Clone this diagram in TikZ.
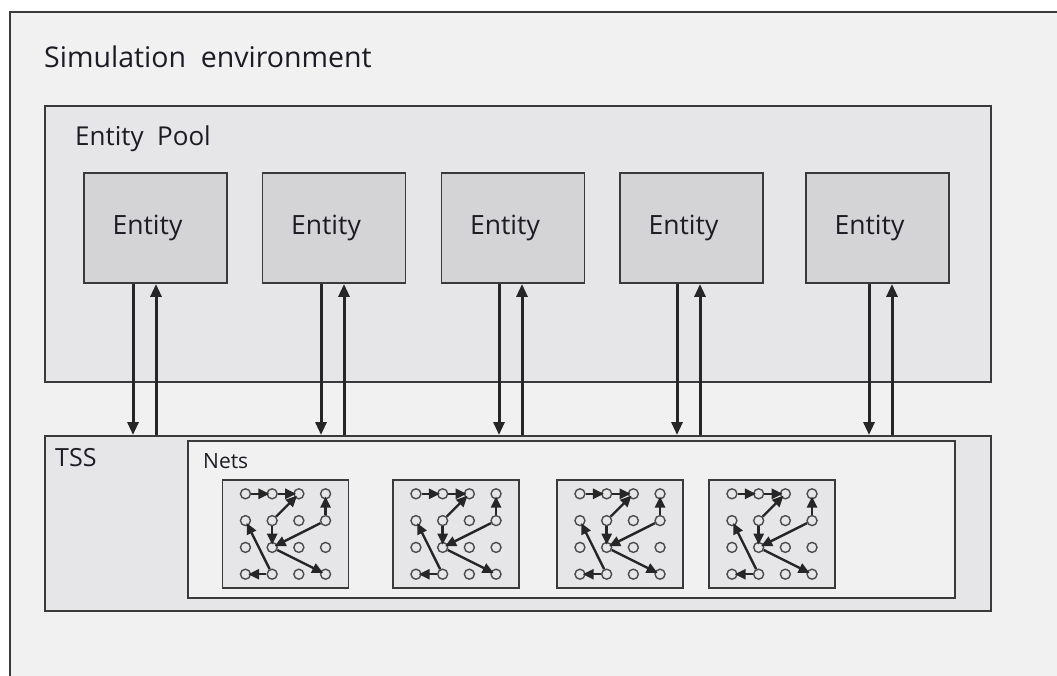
\documentclass[tikz,border=0pt]{standalone}
\usepackage{fontspec}
\setmainfont{Open Sans}
\usetikzlibrary{arrows.meta,calc}
\definecolor{bgout}{HTML}{F1F1F1}
\definecolor{bgpool}{HTML}{E6E6E8}
\definecolor{bgent}{HTML}{D4D4D6}
\definecolor{edge}{HTML}{3A3A3A}
\definecolor{txt}{HTML}{1C1C24}
\newcommand{\enttext}{\hspace*{-16pt}Entity}
\tikzset{
  panel/.style={draw=edge, line width=1.9pt, anchor=north west, inner sep=0pt},
  entbox/.style={draw=edge, line width=1.9pt, fill=bgent, minimum width=143pt, minimum height=110pt, inner sep=0pt, font=\fontsize{26.5}{30}\selectfont, text=txt},
  lbl/.style={anchor=base west, inner sep=0pt, text=txt},
  bigarr/.style={draw=black!85, line width=3pt, -{Triangle[length=13pt,width=11pt]}},
  dot/.style={circle, draw=black!70, line width=1.4pt, fill=bgpool, minimum size=10pt, inner sep=0pt},
  narr/.style={draw=black!85, line width=2.4pt, -{Triangle[length=11pt,width=10pt]}, shorten >=-3pt},
  netbox/.style={draw=edge, line width=1.9pt, fill=bgpool, minimum width=126pt, minimum height=108pt, inner sep=0pt},
  pics/net/.style={code={
    \node[netbox] (-box) at (0,0) {};
    \foreach \i in {0,1,2,3}{\foreach \j in {0,1,2,3}{
      \node[dot] (-c\i\j) at ({(\i-1.5)*26.7},{(\j-1.5)*26.8}) {};
    }}
    \draw[narr] (-c00) -- (-c10);
    \draw[narr] (-c10) -- (-c20);
    \draw[narr] (-c11) -- (-c20);
    \draw[narr] (-c11) -- (-c12);
    \draw[narr] (-c31) -- (-c30);
    \draw[narr] (-c31) -- (-c12);
    \draw[narr] (-c12) -- (-c33);
    \draw[narr] (-c13) -- (-c01);
    \draw[narr] (-c13) -- (-c03);
  }}
}
\begin{document}
\begin{tikzpicture}[x=1pt,y=-1pt]
\useasboundingbox (0,0) rectangle (1057,675);
\fill[white] (0,0) rectangle (1057,675);
\begin{scope}
\clip (0,0) rectangle (1057,675);
\node[panel, fill=bgout, minimum width=1070pt, minimum height=690pt] (env) at (9,11) {};
\end{scope}
\node[lbl, font=\fontsize{28.5}{32}\selectfont] (envlbl) at (44,67) {Simulation\ \ environment};
\node[panel, fill=bgpool, minimum width=946pt, minimum height=276pt] (pool) at (44,105) {};
\node[lbl, font=\fontsize{26}{30}\selectfont] (poollbl) at (75,145) {Entity\ \ Pool};
\node[entbox] (e1) at (155.5,228) {\enttext};
\node[entbox] (e2) at (334,228) {\enttext};
\node[entbox] (e3) at (513,228) {\enttext};
\node[entbox] (e4) at (691.5,228) {\enttext};
\node[entbox] (e5) at (877.5,228) {\enttext};
\node[panel, fill=bgpool, minimum width=946pt, minimum height=175pt] (tss) at (44,435) {};
\node[lbl, font=\fontsize{25}{30}\selectfont] (tsslbl) at (55,466) {TSS};
\node[panel, fill=bgout, minimum width=767pt, minimum height=157pt] (nets) at (187,440) {};
\node[lbl, font=\fontsize{21}{25}\selectfont] (netslbl) at (203,468) {Nets};
\foreach \k/\dx/\ux in {1/133/156, 2/321/344, 3/499/522, 4/677/700, 5/869/892}{
  \coordinate (d\k) at (\dx,283);
  \coordinate (u\k) at (\ux,283);
  \draw[bigarr] (d\k |- e\k.south) -- (d\k |- tss.north);
  \draw[bigarr] (u\k |- tss.north) -- (u\k |- e\k.south);
}
\pic (n1) at (285.5,534) {net};
\pic (n2) at (456,534) {net};
\pic (n3) at (620,534) {net};
\pic (n4) at (772,534) {net};
\end{tikzpicture}
\end{document}
